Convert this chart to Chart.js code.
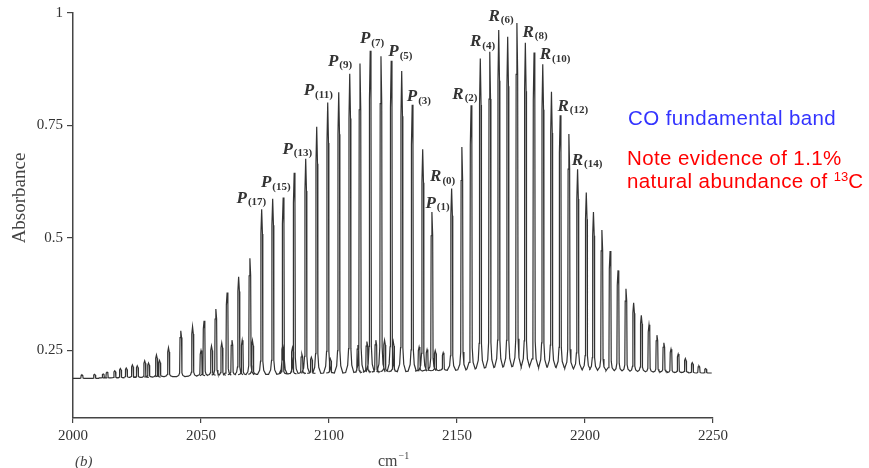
<!DOCTYPE html>
<html>
<head>
<meta charset="utf-8">
<script src="https://cdn.jsdelivr.net/npm/chart.js@4"></script>
<style>
  html, body { margin: 0; padding: 0; background: #fff; }
  #wrap { position: relative; width: 869px; height: 468px; }
  #chart { position: absolute; left: 0; top: 0; }
  .note { position: absolute; font-family: "Liberation Sans", Arial, sans-serif; font-size: 20.5px; letter-spacing: 0.4px; line-height: 23px; white-space: nowrap; }
  .note sup { font-size: 13px; letter-spacing: 0; line-height: 0; vertical-align: 7px; }
</style>
</head>
<body>
<div id="wrap">
  <canvas id="chart" width="869" height="468"></canvas>
  <div class="note" style="left:628px; top:106px; color:#3333ff;">CO fundamental band</div>
  <div class="note" style="left:627px; top:146px; color:#ff0000;">Note evidence of 1.1%<br>natural abundance of <sup>13</sup>C</div>
</div>
<script>
// 12CO lines, P(32) ... P(1), R(0) ... R(31)
const mainWavenumber = [2003.5, 2008.4, 2013.3, 2018.5, 2023.2, 2028.0, 2032.6, 2037.3, 2042.1, 2046.7, 2051.2, 2055.8, 2060.2, 2064.7, 2069.1, 2073.7,
  2078.0, 2082.1, 2086.4, 2090.9, 2095.2, 2099.5, 2103.8, 2108.1, 2112.1, 2116.1, 2120.3, 2124.3, 2128.4, 2132.5, 2136.6, 2140.2,
  2147.9, 2151.9, 2155.5, 2159.1, 2162.8, 2166.3, 2169.8, 2173.4, 2176.7, 2180.1, 2183.5, 2186.9, 2190.3, 2193.7, 2197.1, 2200.5,
  2203.3, 2206.6, 2209.8, 2212.9, 2216.0, 2219.0, 2222.0, 2225.0, 2228.1, 2230.8, 2233.6, 2236.4, 2239.2, 2241.9, 2244.5, 2247.1];
const mainAbsorbance = [0.196, 0.197, 0.202, 0.210, 0.218, 0.227, 0.240, 0.256, 0.294, 0.303, 0.316, 0.342, 0.379, 0.414, 0.455, 0.564,
  0.587, 0.590, 0.645, 0.676, 0.747, 0.801, 0.824, 0.865, 0.888, 0.916, 0.904, 0.894, 0.871, 0.796, 0.697, 0.558,
  0.610, 0.702, 0.795, 0.899, 0.914, 0.962, 0.947, 0.978, 0.934, 0.912, 0.886, 0.825, 0.773, 0.731, 0.653, 0.601,
  0.558, 0.518, 0.471, 0.428, 0.387, 0.356, 0.328, 0.307, 0.284, 0.267, 0.253, 0.242, 0.232, 0.223, 0.216, 0.210];
const mainFloor = [0.188, 0.188, 0.189, 0.189, 0.190, 0.190, 0.191, 0.192, 0.192, 0.193, 0.194, 0.195, 0.195, 0.196, 0.196, 0.197,
  0.197, 0.198, 0.198, 0.199, 0.199, 0.200, 0.200, 0.201, 0.201, 0.202, 0.202, 0.203, 0.203, 0.204, 0.204, 0.205,
  0.206, 0.207, 0.209, 0.211, 0.212, 0.213, 0.214, 0.215, 0.214, 0.214, 0.213, 0.213, 0.212, 0.211, 0.209, 0.207,
  0.206, 0.206, 0.205, 0.204, 0.204, 0.203, 0.203, 0.202, 0.202, 0.202, 0.201, 0.201, 0.201, 0.200, 0.200, 0.200];

// small 13CO lines
const c13Wavenumber = [2011.8, 2016.3, 2020.8, 2025.1, 2029.5, 2033.8, 2050.0, 2054.1, 2058.1, 2062.1, 2066.1, 2070.1, 2081.9,
  2085.7, 2089.4, 2093.1, 2100.5, 2111.3, 2114.8, 2118.3, 2121.7, 2125.1, 2135.2, 2138.3, 2141.5, 2144.6];
const c13Absorbance = [0.198, 0.205, 0.211, 0.216, 0.222, 0.228, 0.250, 0.260, 0.267, 0.273, 0.273, 0.272, 0.262,
  0.256, 0.242, 0.235, 0.232, 0.262, 0.270, 0.273, 0.273, 0.270, 0.258, 0.252, 0.250, 0.245];
const c13Floor = [0.189, 0.189, 0.190, 0.190, 0.191, 0.192, 0.194, 0.195, 0.195, 0.196, 0.196, 0.197, 0.198,
  0.198, 0.199, 0.199, 0.200, 0.201, 0.202, 0.202, 0.203, 0.203, 0.204, 0.205, 0.205, 0.206];

const traceStartEnd = [2000, 2249.5];
const traceStartEndLevel = [0.188, 0.200];

const xTicks = [2000, 2050, 2100, 2150, 2200, 2250];
const yTicks = [0.25, 0.5, 0.75, 1];

// band labels
const labelBranch = ['P', 'P', 'P', 'P', 'P', 'P', 'P', 'P', 'P', 'R', 'R', 'R', 'R', 'R', 'R', 'R', 'R'];
const labelJ = ['17', '15', '13', '11', '9', '7', '5', '3', '1', '0', '2', '4', '6', '8', '10', '12', '14'];
const labelX = [2069.7, 2079.2, 2087.6, 2095.8, 2104.3, 2116.8, 2127.9, 2135.1, 2142.4, 2144.4, 2153.1, 2160.0, 2167.2, 2180.5, 2188.3, 2195.2, 2200.8];
const labelY = [0.588, 0.622, 0.697, 0.827, 0.892, 0.942, 0.914, 0.814, 0.577, 0.636, 0.819, 0.936, 0.992, 0.957, 0.907, 0.792, 0.673];

// peak outline (offset in cm-1, share of peak height above its floor)
const shapeOffset = [-1.6, -0.8, -0.45, -0.3, 0, 0.3, 0.45, 0.8, 1.6];
const shapeShare = [0, 0.025, 0.08, 0.85, 1, 0.85, 0.08, 0.025, 0];
const footReach = shapeOffset[shapeOffset.length - 1];

// all lines in wavenumber order; neighbouring peaks are joined foot to foot
const lines = [];
mainWavenumber.forEach((p, i) => lines.push({ p, top: mainAbsorbance[i], floor: mainFloor[i] }));
c13Wavenumber.forEach((p, i) => lines.push({ p, top: c13Absorbance[i], floor: c13Floor[i] }));
lines.sort((a, b) => a.p - b.p);

const trace = [{ x: traceStartEnd[0], y: traceStartEndLevel[0] }];
lines.forEach((l, i) => {
  shapeOffset.forEach((o, k) => {
    trace.push({ x: l.p + o, y: l.floor + shapeShare[k] * (l.top - l.floor) });
  });
  const next = lines[i + 1];
  if (next && next.p - footReach < l.p + footReach) {
    trace.push({ x: l.p + footReach, y: null });
  }
});
trace.push({ x: traceStartEnd[1], y: traceStartEndLevel[1] });

const ink = '#333';
const serif = '"Liberation Serif", "Times New Roman", serif';

const textPlugin = {
  id: 'textPlugin',
  afterDatasetsDraw(chart) {
    const { ctx, scales: { x, y } } = chart;
    ctx.save();
    ctx.fillStyle = '#333';
    ctx.textBaseline = 'middle';
    labelBranch.forEach((b, i) => {
      const px = x.getPixelForValue(labelX[i]);
      const py = y.getPixelForValue(labelY[i]);
      const sub = '(' + labelJ[i] + ')';
      ctx.font = 'italic bold 17px ' + serif;
      const w1 = ctx.measureText(b).width;
      ctx.font = 'bold 11px ' + serif;
      const w2 = ctx.measureText(sub).width;
      const left = px - (w1 + w2 + 1) / 2;
      ctx.font = 'italic bold 17px ' + serif;
      ctx.fillText(b, left, py);
      ctx.font = 'bold 11px ' + serif;
      ctx.fillText(sub, left + w1 + 1, py + 4);
    });

    // axis titles
    ctx.fillStyle = '#444';
    ctx.save();
    ctx.translate(20, 198);
    ctx.rotate(-Math.PI / 2);
    ctx.textAlign = 'center';
    ctx.font = '19px ' + serif;
    ctx.fillText('Absorbance', 0, 0);
    ctx.restore();

    ctx.textBaseline = 'alphabetic';
    ctx.font = '16px ' + serif;
    ctx.fillText('cm', 378, 466);
    const wcm = ctx.measureText('cm').width;
    ctx.font = '10px ' + serif;
    ctx.fillText('\u22121', 378 + wcm + 1, 459);

    ctx.font = 'italic 15px ' + serif;
    ctx.fillText('(b)', 75, 466);
    ctx.restore();
  }
};

new Chart(document.getElementById('chart'), {
  type: 'scatter',
  data: {
    datasets: [{
      data: trace,
      showLine: true,
      spanGaps: false,
      borderColor: ink,
      borderWidth: 1.2,
      pointRadius: 0,
      tension: 0
    }]
  },
  options: {
    responsive: false,
    animation: false,
    events: [],
    layout: { padding: { top: 13, right: 156, bottom: 0, left: 0 } },
    plugins: { legend: { display: false }, tooltip: { enabled: false } },
    scales: {
      x: {
        type: 'linear',
        min: 2000,
        max: 2250,
        afterBuildTicks: s => { s.ticks = xTicks.map(v => ({ value: v })); },
        afterFit: s => { s.height = 50; },
        border: { display: true, color: '#444', width: 1.5 },
        grid: { display: true, drawOnChartArea: false, drawTicks: true, tickLength: 5, color: '#444', lineWidth: 1.2 },
        ticks: { color: '#333', font: { family: serif, size: 15 }, padding: 4, maxRotation: 0, callback: v => String(v) }
      },
      y: {
        type: 'linear',
        min: 0.1,
        max: 1,
        afterBuildTicks: s => { s.ticks = yTicks.map(v => ({ value: v })); },
        afterFit: s => { s.width = 73; },
        border: { display: true, color: '#444', width: 1.5 },
        grid: { display: true, drawOnChartArea: false, drawTicks: true, tickLength: 6, color: '#444', lineWidth: 1.2 },
        ticks: { color: '#333', font: { family: serif, size: 15 }, padding: 4, callback: v => String(v) }
      }
    }
  },
  plugins: [textPlugin]
});
</script>
</body>
</html>
